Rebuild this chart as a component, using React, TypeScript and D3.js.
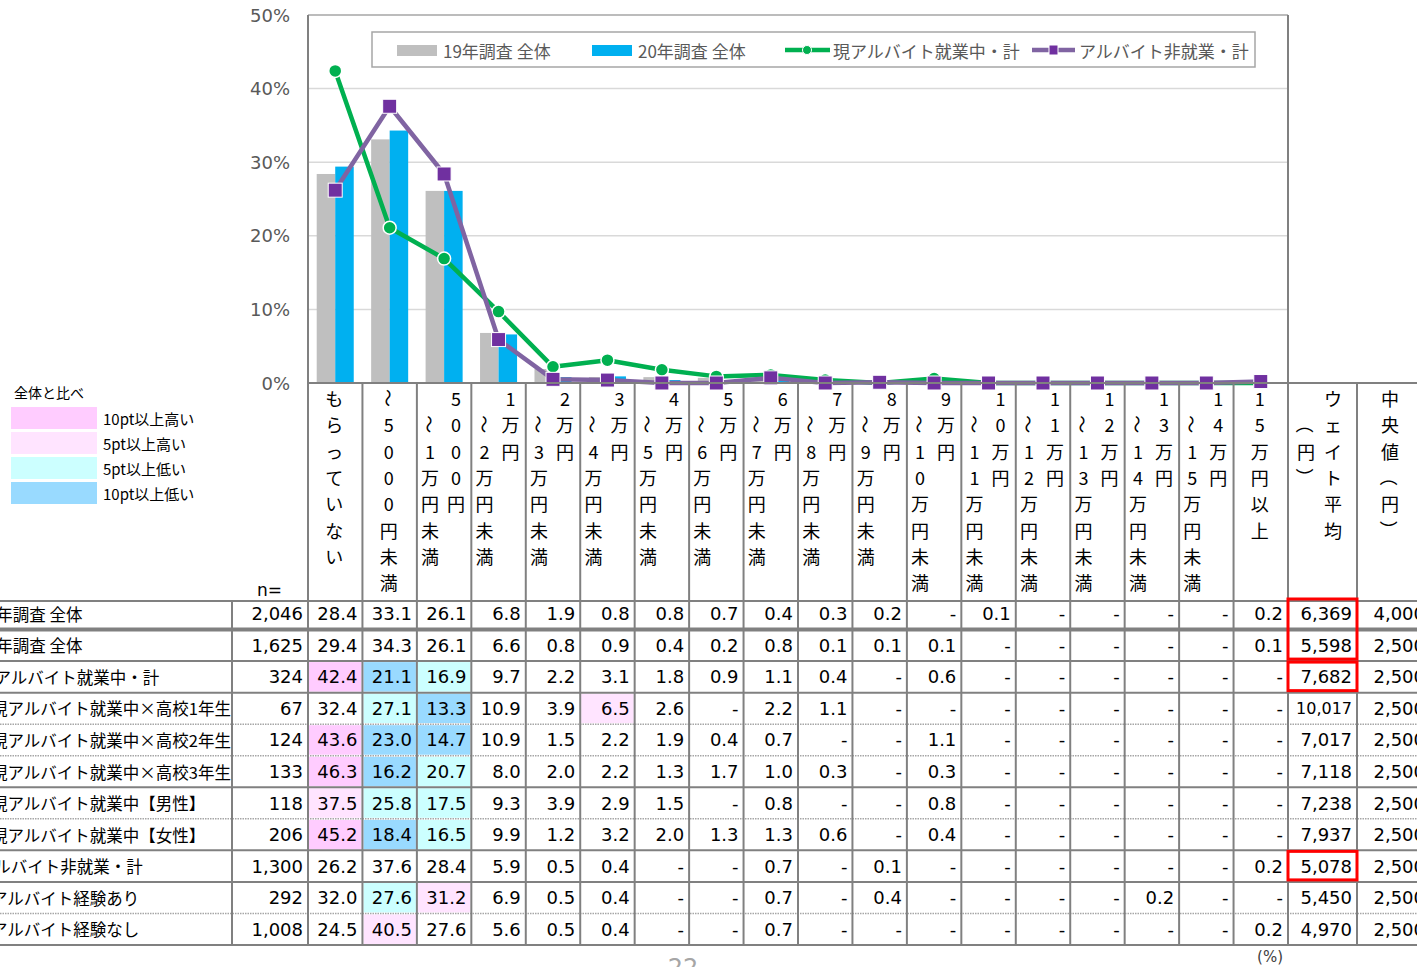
import React from 'react';
import * as d3 from 'd3';

// categories (monthly allowance ranges)
const categories = [
  'もらっていない', '～5000円未満', '5000円～1万円未満', '1万円～2万円未満',
  '2万円～3万円未満', '3万円～4万円未満', '4万円～5万円未満', '5万円～6万円未満',
  '6万円～7万円未満', '7万円～8万円未満', '8万円～9万円未満', '9万円～10万円未満',
  '10万円～11万円未満', '11万円～12万円未満', '12万円～13万円未満', '13万円～14万円未満',
  '14万円～15万円未満', '15万円以上',
];

const total2019 = [28.4, 33.1, 26.1, 6.8, 1.9, 0.8, 0.8, 0.7, 0.4, 0.3, 0.2, null, 0.1, null, null, null, null, 0.2];
const total2020 = [29.4, 34.3, 26.1, 6.6, 0.8, 0.9, 0.4, 0.2, 0.8, 0.1, 0.1, 0.1, null, null, null, null, null, 0.1];
const working = [42.4, 21.1, 16.9, 9.7, 2.2, 3.1, 1.8, 0.9, 1.1, 0.4, null, 0.6, null, null, null, null, null, null];
const workingG1 = [32.4, 27.1, 13.3, 10.9, 3.9, 6.5, 2.6, null, 2.2, 1.1, null, null, null, null, null, null, null, null];
const workingG2 = [43.6, 23.0, 14.7, 10.9, 1.5, 2.2, 1.9, 0.4, 0.7, null, null, 1.1, null, null, null, null, null, null];
const workingG3 = [46.3, 16.2, 20.7, 8.0, 2.0, 2.2, 1.3, 1.7, 1.0, 0.3, null, 0.3, null, null, null, null, null, null];
const workingMale = [37.5, 25.8, 17.5, 9.3, 3.9, 2.9, 1.5, null, 0.8, null, null, 0.8, null, null, null, null, null, null];
const workingFemale = [45.2, 18.4, 16.5, 9.9, 1.2, 3.2, 2.0, 1.3, 1.3, 0.6, null, 0.4, null, null, null, null, null, null];
const notWorking = [26.2, 37.6, 28.4, 5.9, 0.5, 0.4, null, null, 0.7, null, 0.1, null, null, null, null, null, null, 0.2];
const expYes = [32.0, 27.6, 31.2, 6.9, 0.5, 0.4, null, null, 0.7, null, 0.4, null, null, null, null, 0.2, null, null];
const expNo = [24.5, 40.5, 27.6, 5.6, 0.5, 0.4, null, null, 0.7, null, null, null, null, null, null, null, null, 0.2];

const rowLabels = [
  '19年調査 全体', '20年調査 全体', '現アルバイト就業中・計',
  '現アルバイト就業中×高校1年生', '現アルバイト就業中×高校2年生', '現アルバイト就業中×高校3年生',
  '現アルバイト就業中【男性】', '現アルバイト就業中【女性】',
  'アルバイト非就業・計', 'アルバイト経験あり', 'アルバイト経験なし',
];
const rowLevel = [0, 0, 0, 1, 1, 1, 1, 1, 0, 1, 1];
const rowN = [2046, 1625, 324, 67, 124, 133, 118, 206, 1300, 292, 1008];
const rowValues = [total2019, total2020, working, workingG1, workingG2, workingG3, workingMale, workingFemale, notWorking, expYes, expNo];
const weightedAvg = [6369, 5598, 7682, 10017, 7017, 7118, 7238, 7937, 5078, 5450, 4970];
const medianVals = [4000, 2500, 2500, 2500, 2500, 2500, 2500, 2500, 2500, 2500, 2500];
// separator under each row (last row has the bottom border)
const rowSeparators = ['double', 'solid', 'solid', 'dotted', 'dotted', 'solid', 'dotted', 'solid', 'solid', 'dotted'];
const redBoxRows = [[0, 1], [2, 2], [8, 8]];

const yTicks = [0, 10, 20, 30, 40, 50];
const compareLabels = ['10pt以上高い', '5pt以上高い', '5pt以上低い', '10pt以上低い'];
const compareColors = ['#ffccff', '#ffe4ff', '#ccffff', '#99daff'];

const fontNum = "'DejaVu Sans', 'Noto Sans CJK JP', sans-serif";
const fontJp = "'Noto Sans CJK JP', 'Noto Sans', sans-serif";

const W = 1417;
const H = 967;
const plot = { left: 308, right: 1288, top: 15, bottom: 383 };
const tableTop = 601;
const tableBottom = 945;
const nCol = [232, 308];
const avgCol = [1288, 1357];
const medCol = [1357, 1427];

const fmtInt = d3.format(',');
const rotated = new Set(['～', '（', '）', 'ー']);

const highlight = (v, base) => {
  const d = (v ?? 0) - (base ?? 0);
  if (d >= 10) return compareColors[0];
  if (d >= 5) return compareColors[1];
  if (d <= -10) return compareColors[3];
  if (d <= -5) return compareColors[2];
  return null;
};

const VText = ({ text, cx, startRow }) => {
  const chars = Array.from(text);
  return (
    <g>
      {chars.map((ch, i) => {
        const y = 398 + 26.3 * (startRow + i);
        return (
          <text key={i} x={cx} y={y} textAnchor="middle" dominantBaseline="central"
            transform={rotated.has(ch) ? `rotate(90, ${cx}, ${y})` : undefined}>
            {ch}
          </text>
        );
      })}
    </g>
  );
};

const HeaderCell = ({ name, x0, w }) => {
  const cx = x0 + w / 2 - 1;
  const idx = name.indexOf('～');
  if (idx > 0) {
    return (
      <g>
        <VText text={name.slice(0, idx)} cx={cx + 13} startRow={0} />
        <VText text={name.slice(idx)} cx={cx - 13} startRow={1} />
      </g>
    );
  }
  return <VText text={name} cx={cx} startRow={0} />;
};

const Chart = () => {
  const x = d3.scaleBand().domain(categories).range([plot.left, plot.right]).padding(0);
  const bw = x.bandwidth();
  const xSub = d3.scaleBand().domain(['19', '20']).range([0, bw]).paddingInner(0).paddingOuter(0.47);
  const y = d3.scaleLinear().domain([0, 50]).range([plot.bottom, plot.top]);
  const rowScale = d3.scaleBand().domain(d3.range(rowLabels.length)).range([598, tableBottom]);
  const rh = rowScale.step();
  const cx = (i) => x(categories[i]) + bw / 2;

  const line = d3.line().x((d, i) => cx(i)).y((d) => y(d ?? 0));

  const cellText = (txt, right, ry, avail) => {
    const est = Array.from(txt).reduce((s, c) => s + (/[0-9]/.test(c) ? 0.636 : 0.32), 0) * 18;
    const fs = est > avail ? (18 * avail) / est : 18;
    return (
      <text x={right} y={ry} textAnchor="end" dominantBaseline="central" fontSize={fs}>{txt}</text>
    );
  };

  return (
    <svg width={W} height={H} style={{ display: 'block', background: '#fff' }}>
      {/* grid */}
      {yTicks.filter((t) => t > 0 && t < 50).map((t) => (
        <line key={t} x1={plot.left} x2={plot.right} y1={y(t)} y2={y(t)} stroke="#d9d9d9" strokeWidth={1.5} />
      ))}
      <line x1={plot.left} x2={plot.right} y1={plot.top} y2={plot.top} stroke="#a6a6a6" strokeWidth={1.5} />
      {/* y labels */}
      <g fontFamily={fontNum} fontSize={18} fill="#595959">
        {yTicks.map((t) => (
          <text key={t} x={290} y={y(t)} textAnchor="end" dominantBaseline="central">{t}%</text>
        ))}
      </g>

      {/* bars */}
      {categories.map((c, i) => (
        <g key={c}>
          <rect x={x(c) + xSub('19')} y={y(total2019[i] ?? 0)} width={xSub.bandwidth()}
            height={plot.bottom - y(total2019[i] ?? 0)} fill="#bfbfbf" />
          <rect x={x(c) + xSub('20')} y={y(total2020[i] ?? 0)} width={xSub.bandwidth()}
            height={plot.bottom - y(total2020[i] ?? 0)} fill="#00b0f0" />
        </g>
      ))}

      {/* lines */}
      <path d={line(working)} fill="none" stroke="#00b050" strokeWidth={4.5} strokeLinejoin="round" />
      {working.map((v, i) => (
        <circle key={i} cx={cx(i)} cy={y(v ?? 0)} r={6.5} fill="#00b050" stroke="#fff" strokeWidth={1.5} />
      ))}
      <path d={line(notWorking)} fill="none" stroke="#8064a2" strokeWidth={4.5} strokeLinejoin="round" />
      {notWorking.map((v, i) => (
        <rect key={i} x={cx(i) - 7} y={y(v ?? 0) - 7} width={14} height={14} fill="#7030a0" stroke="#fff" strokeWidth={1} />
      ))}

      {/* legend */}
      <rect x={372} y={32} width={883} height={35} fill="#fff" stroke="#a6a6a6" strokeWidth={1.5} />
      <g fontFamily={fontJp} fontSize={17} fill="#595959">
        <rect x={397} y={45} width={40} height={11} fill="#bfbfbf" />
        <text x={443} y={50} dominantBaseline="central">{rowLabels[0]}</text>
        <rect x={592} y={45} width={40} height={11} fill="#00b0f0" />
        <text x={638} y={50} dominantBaseline="central">{rowLabels[1]}</text>
        <line x1={785} x2={830} y1={50} y2={50} stroke="#00b050" strokeWidth={4.5} />
        <circle cx={807} cy={50} r={4.5} fill="#00b050" stroke="#fff" strokeWidth={1} />
        <text x={833} y={50} dominantBaseline="central">{rowLabels[2]}</text>
        <line x1={1032} x2={1075} y1={50} y2={50} stroke="#8064a2" strokeWidth={4.5} />
        <rect x={1049} y={45} width={9} height={10} fill="#7030a0" stroke="#fff" strokeWidth={1} />
        <text x={1079} y={50} dominantBaseline="central">{rowLabels[8]}</text>
      </g>

      {/* comparison legend */}
      <g fontFamily={fontJp} fill="#000">
        <text x={14} y={392} fontSize={14} dominantBaseline="central">全体と比べ</text>
        {compareLabels.map((l, i) => (
          <g key={l}>
            <rect x={11} y={407 + i * 25} width={86} height={22} fill={compareColors[i]} />
            <text x={103} y={418 + i * 25} fontSize={15} dominantBaseline="central">{l}</text>
          </g>
        ))}
      </g>

      {/* header texts */}
      <g fontFamily={fontJp} fontSize={18} fill="#000">
        {categories.map((c) => (
          <HeaderCell key={c} name={c} x0={x(c)} w={bw} />
        ))}
        <VText text="ウェイト平均" cx={1333} startRow={0} />
        <VText text="（円）" cx={1306} startRow={1} />
        <VText text="中央値（円）" cx={1390} startRow={0} />
      </g>
      <text x={257} y={590} fontFamily={fontNum} fontSize={17} dominantBaseline="central">n=</text>

      {/* highlighted cells */}
      {rowValues.map((vals, r) => r < 2 ? null : vals.map((v, c) => {
        const col = highlight(v, total2020[c]);
        if (!col) return null;
        return <rect key={`${r}-${c}`} x={x(categories[c]) + 1} y={rowScale(r) + 1} width={bw - 2} height={rh - 2} fill={col} />;
      }))}

      {/* table lines */}
      <g stroke="#808080" strokeWidth={2}>
        <line x1={0} x2={W} y1={tableTop} y2={tableTop} />
        <line x1={0} x2={W} y1={tableBottom} y2={tableBottom} />
        {rowSeparators.map((s, i) => {
          const yy = rowScale(i + 1);
          if (s === 'dotted') return <line key={i} x1={0} x2={W} y1={yy} y2={yy} stroke="#a6a6a6" strokeWidth={1.5} strokeDasharray="1.5,1" />;
          return <line key={i} x1={0} x2={W} y1={yy} y2={yy} strokeWidth={s === 'double' ? 4 : 2} />;
        })}
        <line x1={nCol[0]} x2={nCol[0]} y1={tableTop} y2={tableBottom} />
        <line x1={plot.left} x2={plot.left} y1={plot.top} y2={tableBottom} />
        {categories.slice(1).map((c) => (
          <line key={c} x1={x(c)} x2={x(c)} y1={plot.bottom} y2={tableBottom} />
        ))}
        <line x1={plot.right} x2={plot.right} y1={plot.top} y2={tableBottom} />
        <line x1={avgCol[1]} x2={avgCol[1]} y1={plot.bottom} y2={tableBottom} />
        <line x1={plot.left} x2={W} y1={plot.bottom} y2={plot.bottom} />
      </g>

      {/* table texts */}
      <g fontFamily={fontNum} fill="#000">
        {rowLabels.map((l, r) => (
          <text key={l} x={rowLevel[r] ? -9 : -22} y={rowScale(r) + rh / 2} fontFamily={fontJp} fontSize={16.5}
            dominantBaseline="central">{l}</text>
        ))}
        {rowN.map((n, r) => <g key={r}>{cellText(fmtInt(n), nCol[1] - 5, rowScale(r) + rh / 2, 68)}</g>)}
        {rowValues.map((vals, r) => vals.map((v, c) => (
          <g key={`${r}-${c}`}>
            {cellText(v == null ? '-' : v.toFixed(1), x(categories[c]) + bw - 5, rowScale(r) + rh / 2, bw - 8)}
          </g>
        )))}
        {weightedAvg.map((v, r) => <g key={r}>{cellText(fmtInt(v), avgCol[1] - 5, rowScale(r) + rh / 2, 56)}</g>)}
        {medianVals.map((v, r) => <g key={r}>{cellText(fmtInt(v), medCol[1] - 2, rowScale(r) + rh / 2, 64)}</g>)}
      </g>

      {/* red boxes */}
      {redBoxRows.map(([a, b], i) => (
        <rect key={i} x={avgCol[0]} y={rowScale(a) + 1} width={avgCol[1] - avgCol[0]}
          height={rowScale(b) + rh - rowScale(a) - 3} fill="none" stroke="#ff0000" strokeWidth={3} />
      ))}

      <text x={1283} y={957} textAnchor="end" dominantBaseline="central" fontFamily={fontNum} fontSize={15} fill="#404040">(%)</text>
      <text x={683} y={976} textAnchor="middle" fontFamily={fontNum} fontSize={24} fill="#a6a6a6">22</text>
    </svg>
  );
};

export default function App() {
  return (
    <div style={{ position: 'absolute', left: 0, top: 0 }}>
      <Chart />
    </div>
  );
}
